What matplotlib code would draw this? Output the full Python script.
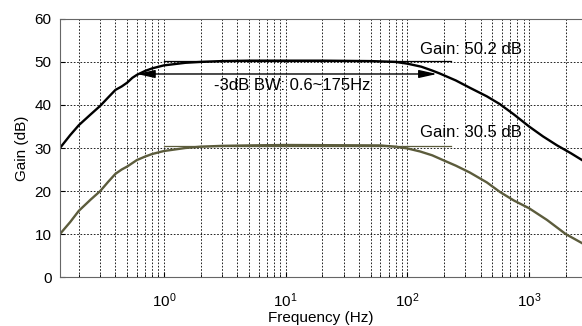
import matplotlib
matplotlib.use('Agg')
import matplotlib.pyplot as plt
import numpy as np

plt.rcParams['font.family'] = ['Liberation Sans', 'DejaVu Sans']
plt.rcParams['font.size'] = 11

# 高增益通道 (Hz, dB)
freq_hi = [0.14, 0.17, 0.2, 0.25, 0.3, 0.35, 0.4, 0.45, 0.5, 0.55, 0.6, 0.7, 0.8, 1, 1.5, 2, 3, 5,
           20, 50, 80, 100, 130, 160, 185, 250, 326, 450, 575, 750, 1000, 1300, 1700, 2200, 2720]
gain_hi = [30, 33, 35.3, 37.8, 39.8, 41.8, 43.5, 44.3, 45.2, 46.3, 47, 47.9, 48.5, 49.2, 49.8, 50.0, 50.2, 50.3,
           50.3, 50.2, 50.0, 49.6, 48.9, 48.0, 47.3, 45.7, 44.0, 42.0, 40.2, 37.8, 35.0, 32.7, 30.6, 28.8, 27.2]

# 低增益通道
freq_lo = [0.14, 0.17, 0.2, 0.25, 0.3, 0.35, 0.4, 0.45, 0.5, 0.6, 0.7, 0.8, 1, 1.5, 2, 3, 5, 10,
           60, 80, 100, 127, 160, 196, 250, 326, 450, 575, 750, 1000, 1400, 2000, 2720]
gain_lo = [10, 12.8, 15.4, 18, 20, 22.2, 24, 25, 25.7, 27.2, 28.0, 28.6, 29.3, 30.0, 30.3, 30.5, 30.6, 30.7,
           30.6, 30.3, 29.9, 29.2, 28.3, 27.2, 25.9, 24.3, 22.0, 19.8, 17.8, 16.0, 13.3, 10.0, 7.9]

bw_lo, bw_hi = 0.6, 175
gain_hi_label = 50.2
gain_lo_label = 30.5

fig = plt.figure(figsize=(5.82, 3.26), dpi=100)
ax = fig.add_axes([0.103, 0.150, 0.897, 0.792])

ax.semilogx(freq_hi, gain_hi, color='black', lw=1.7)
ax.semilogx(freq_lo, gain_lo, color='#5c5c3c', lw=1.7)

# 标注线
ax.plot([1, 230], [gain_hi_label, gain_hi_label], color='black', lw=0.9)
ax.plot([1, 230], [gain_lo_label, gain_lo_label], color='#5c5c3c', lw=0.9)
ax.text(333, 53, 'Gain: 50.2 dB', ha='center', va='center', fontsize=12)
ax.text(333, 33.5, 'Gain: 30.5 dB', ha='center', va='center', fontsize=12)

ax.annotate('', xy=(bw_lo, gain_hi_label - 3), xytext=(bw_hi, gain_hi_label - 3),
            arrowprops=dict(arrowstyle='<|-|>,head_length=0.9,head_width=0.2', color='black', lw=1,
                            mutation_scale=12, shrinkA=0, shrinkB=0))
ax.text(11.3, 44.6, '-3dB BW: 0.6~175Hz', ha='center', va='center', fontsize=12)

ax.set_xlim(0.14, 2720)
ax.set_ylim(0, 60)
ax.set_yticks([0, 10, 20, 30, 40, 50, 60])

ax.grid(True, which='major', color='black', ls=(0, (2, 2)), lw=0.6)
ax.grid(True, which='minor', axis='x', color='black', ls=(0, (2, 2)), lw=0.6)
ax.tick_params(which='both', direction='in', labelsize=11)
ax.tick_params(axis='y', pad=6)
ax.tick_params(axis='x', pad=10)
for s in ax.spines.values():
    s.set_color('#666666')
ax.spines['right'].set_visible(False)

ax.set_xlabel('Frequency (Hz)', labelpad=1)
ax.set_ylabel('Gain (dB)', labelpad=4)

fig.savefig('out.png', dpi=100)
